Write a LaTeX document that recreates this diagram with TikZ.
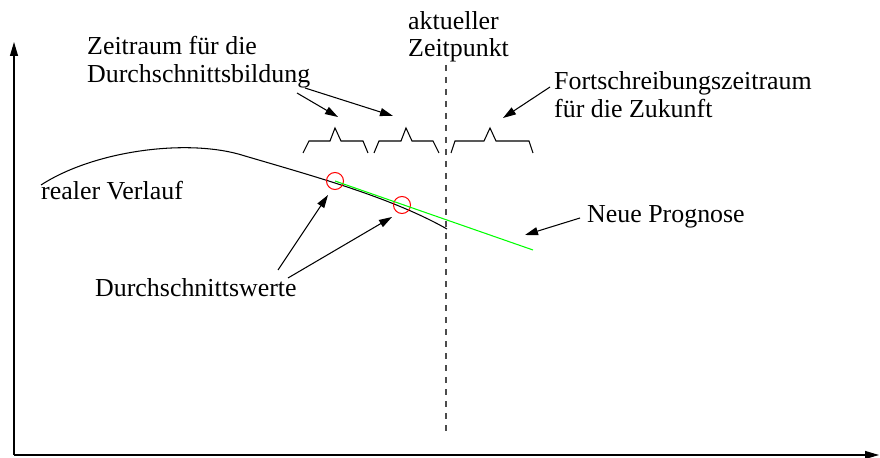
\documentclass[tikz,border=0pt]{standalone}
\usepackage{fontspec}
\setmainfont{Liberation Serif}
\usetikzlibrary{arrows.meta}

\begin{document}
\begin{tikzpicture}[x=1bp, y=-1bp,
  lbl/.style={anchor=base west, inner sep=0pt, font=\fontsize{26}{28}\selectfont},
  ptr/.style={line width=1.05bp, -{Triangle[length=13bp, width=8bp]}},
  axis/.style={line width=1.1bp, -{Triangle[length=14bp, width=8bp]}},
  bracket/.style={line width=1.05bp, line join=miter},
  avgring/.style={draw=red, line width=1bp, circle, minimum size=17bp, inner sep=0pt},
]
\useasboundingbox (0,0) rectangle (880,458);

% axes
\coordinate (origin) at (14,455);
\coordinate (ytip) at (14,42);
\coordinate (xtip) at (879,455);
\draw[axis] (origin) -- (ytip);
\draw[axis] (origin) -- (xtip);

% current point in time
\coordinate (nowtop) at (446,65);
\coordinate (nowbot) at (446,432);
\draw[black!70, line width=1.1bp, dash pattern=on 6bp off 6bp] (nowtop) -- (nowbot);

% averaging windows and extrapolation window
\draw[bracket] (303,153) -- (309,141) -- (330,141) -- (335,128) -- (341,141) -- (363,141) -- (368,153);
\draw[bracket] (374,153) -- (379,141) -- (401,141) -- (406,128) -- (412,141) -- (433,141) -- (439,153);
\draw[bracket] (451,153) -- (455,141) -- (484,141) -- (490,128) -- (496,141) -- (529,141) -- (533,153);

% real course of the curve
\draw[line width=1.05bp] (41,185) .. controls (95,150) and (190,138) .. (245,156)
  .. controls (320,178) and (392,198) .. (447,229);

% averaged points and the new forecast
\node[avgring] (m1) at (335,181) {};
\node[avgring] (m2) at (402,205) {};
\coordinate (progend) at (533,250);
\draw[green, line width=1.05bp] (m1.center) -- (progend);

% labels
\node[lbl] (zr1) at (87,55) {Zeitraum für die};
\node[lbl] (zr2) at (87,83) {Durchschnittsbildung};
\node[lbl] (akt1) at (408,30) {aktueller};
\node[lbl] (akt2) at (408,57) {Zeitpunkt};
\node[lbl] (fs1) at (554,90) {Fortschreibungszeitraum};
\node[lbl] (fs2) at (554,118) {für die Zukunft};
\node[lbl] (real) at (41,200) {realer Verlauf};
\node[lbl] (prog) at (587,223) {Neue Prognose};
\node[lbl] (avg) at (95,297) {Durchschnittswerte};

% pointers
\coordinate (zrA) at (297,93);
\coordinate (zrB) at (305,88);
\coordinate (win1) at (338,117);
\coordinate (win2) at (393,116);
\draw[ptr] (zrA) -- (win1);
\draw[ptr] (zrB) -- (win2);

\coordinate (fsA) at (550,87);
\coordinate (win3) at (503,118);
\draw[ptr] (fsA) -- (win3);

\coordinate (progA) at (580,218);
\coordinate (progT) at (525,235);
\draw[ptr] (progA) -- (progT);

\coordinate (avgA) at (278,270);
\coordinate (avgB) at (288,278);
\coordinate (avgT1) at (328,195);
\coordinate (avgT2) at (392,217);
\draw[ptr] (avgA) -- (avgT1);
\draw[ptr] (avgB) -- (avgT2);
\end{tikzpicture}
\end{document}
